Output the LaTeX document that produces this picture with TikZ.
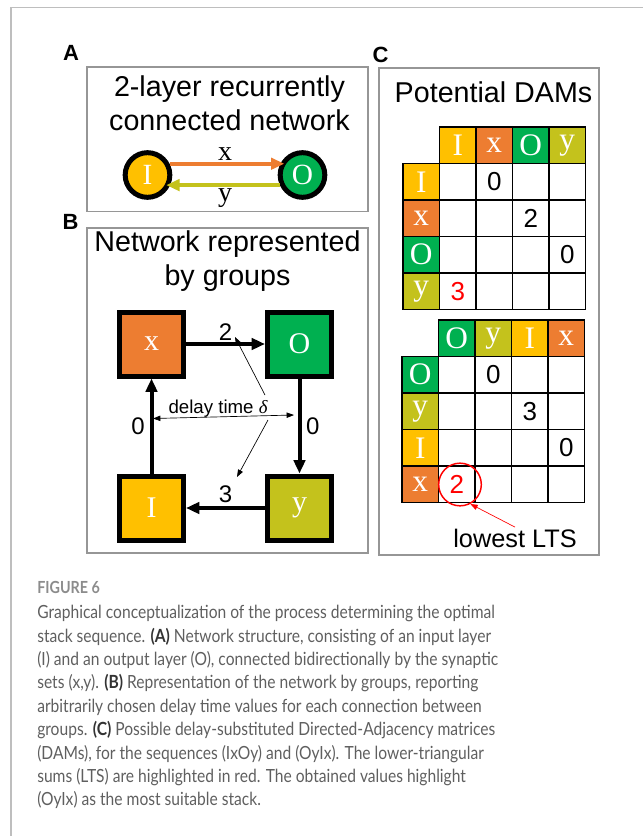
\documentclass[tikz,border=0pt]{standalone}
\usepackage{fontspec}
\setmainfont{Liberation Sans}
\newfontfamily\tms{Liberation Serif}
\newfontfamily\capfam[FakeStretch=0.86]{Lato}
\usetikzlibrary{arrows.meta}

\definecolor{layI}{RGB}{255,192,0}
\definecolor{layX}{RGB}{237,125,49}
\definecolor{layO}{RGB}{0,176,80}
\definecolor{layY}{RGB}{196,194,28}
\definecolor{framegray}{RGB}{150,150,150}
\definecolor{pagegray}{RGB}{190,190,190}
\definecolor{capgray}{RGB}{95,95,95}
\definecolor{figgray}{RGB}{140,140,140}

\newcommand{\capb}[1]{{\bfseries\color{black!80}#1}}

\tikzset{
  panel/.style={draw=framegray, line width=1.1pt},
  plabel/.style={font=\fontsize{16.5}{18}\selectfont\bfseries},
  title/.style={align=center, font=\fontsize{21.5}{25.5}\selectfont},
  lay/.style={circle, draw, line width=3.75pt, minimum size=33.5pt, inner sep=0pt,
    fill=#1, text=white, font=\tms\fontsize{22}{22}\selectfont},
  grp/.style={draw, line width=3.75pt, minimum size=48pt, inner sep=0pt,
    fill=#1, text=white, font=\tms\fontsize{22.5}{24}\selectfont},
  fat/.style={line width=3pt, -{Triangle[length=10pt,width=8.5pt]}},
  thinarr/.style={line width=0.5pt, -{Triangle[length=5.5pt,width=4pt]}},
  dblarr/.style={line width=0.5pt, {Triangle[length=5.5pt,width=4pt]}-{Triangle[length=5.5pt,width=4pt]}},
  xlet/.style={text=black, font=\tms\fontsize{21}{22}\selectfont, inner sep=1pt},
  lbl/.style={font=\fontsize{18}{20}\selectfont, inner sep=1.5pt},
  cell/.style={draw, line width=1.1pt, minimum size=27.4pt, inner sep=0pt},
  hdr/.style={cell, fill=#1, text=white, font=\tms\fontsize{23.5}{24}\selectfont},
  num/.style={font=\fontsize{19.5}{20}\selectfont, inner sep=0pt},
}

\begin{document}
\begin{tikzpicture}[x=0.75pt,y=-0.75pt]
    \useasboundingbox (0,0) rectangle (643,836);
    \draw[pagegray, line width=0.8pt] (11,836) -- (11,7.5) -- (643,7.5);

    % Panel A
    \node[plabel] (labA) at (71,52.5) {A};
    \draw[panel] (87,67) rectangle (368,211.5);
    \node[title] (ttlA) at (229.5,103.5) {2-layer recurrently\\connected network};
    \node[lay=layI] (nI) at (147.5,175) {I};
    \node[lay=layO] (nO) at (302.5,175) {O};
    \draw[fat, layX, shorten >=-3pt] (nI.27) -- node[above, xlet] (ex) {x} (nO.153);
    \draw[fat, layY, shorten >=-3pt] (nO.204) -- node[below=0.5pt, xlet] (ey) {y} (nI.-24);

    % Panel B
    \node[plabel] (labB) at (70.5,222) {B};
    \draw[panel] (87,228) rectangle (368,553);
    \node[title] (ttlB) at (227.5,261.5) {Network represented\\by groups};
    \node[grp=layX] (gx) at (151.5,344) {x};
    \node[grp=layO] (gO) at (299.5,344) {O};
    \node[grp=layI] (gI) at (151.5,508) {I};
    \node[grp=layY] (gy) at (299.5,508) {y};
    \draw[fat] (gx) -- node[lbl, above] (e2) {2} (gO);
    \draw[fat] (gO) -- node[lbl, right=2pt] (e0a) {0} (gy);
    \draw[fat] (gy) -- node[lbl, above=1pt] (e3) {3} (gI);
    \draw[fat] (gI) -- node[lbl, left=2pt] (e0b) {0} (gx);

    % delay time pointers
    \node[font=\fontsize{14}{16}\selectfont, inner sep=0pt, anchor=base] (dlt) at (218,413) {delay time {\tms\itshape δ}};
    \coordinate (fu) at (265,395);
    \coordinate (fd) at (268,420);
    \coordinate (t2) at (235,337);
    \coordinate (tl) at (153,418.5);
    \coordinate (tr) at (294,415);
    \coordinate (t3) at (237,477);
    \draw[thinarr] (fu) -- (t2);
    \draw[dblarr] (tl) -- (tr);
    \draw[thinarr] (fd) -- (t3);

    % Panel C
    \node[plabel] (labC) at (380.5,54.5) {C};
    \draw[panel] (379,68) rectangle (599,555);
    \node[title, anchor=base] (ttlC) at (493.5,102) {Potential DAMs};

    % DAM for (IxOy)
    \foreach \lab/\fc [count=\k] in {I/layI,x/layX,O/layO,y/layY}{
        \node[hdr=\fc] (pc\k) at ({403+36.5*(\k+0.5)},145.25) {\lab};
        \node[hdr=\fc] (pr\k) at (421.25,{127+36.5*(\k+0.5)}) {\lab};
        \foreach \c in {1,...,4}
            \node[cell] (p\k\c) at ({403+36.5*(\c+0.5)},{127+36.5*(\k+0.5)}) {};
    }
    \node[num] (v12) at (p12) {0};
    \node[num] (v23) at (p23) {2};
    \node[num] (v34) at (p34) {0};
    \node[num, red] (v41) at (p41) {3};

    % DAM for (OyIx)
    \foreach \lab/\fc [count=\k] in {O/layO,y/layY,I/layI,x/layX}{
        \node[hdr=\fc] (qc\k) at ({402+36.5*(\k+0.5)},338.25) {\lab};
        \node[hdr=\fc] (qr\k) at (420.25,{320+36.5*(\k+0.5)}) {\lab};
        \foreach \c in {1,...,4}
            \node[cell] (q\k\c) at ({402+36.5*(\c+0.5)},{320+36.5*(\k+0.5)}) {};
    }
    \node[num] (w12) at (q12) {0};
    \node[num] (w23) at (q23) {3};
    \node[num] (w34) at (q34) {0};
    \node[num, red] (w41) at (q41) {2};

    % lowest lower-triangular sum
    \node[circle, draw=red, line width=1.1pt, minimum size=32pt, inner sep=0pt] (lowc) at (460,484.5) {};
    \node[font=\fontsize{19}{20}\selectfont, inner sep=1pt] (lts) at (515,538) {lowest LTS};
    \draw[thinarr, red] (lts.north) -- (lowc.-62);

    % Caption
    \node[anchor=base west, inner sep=0pt, text=figgray, font=\capfam\bfseries\fontsize{12.5}{13}\selectfont] (fig) at (37,593) {FIGURE 6};
    \node[anchor=north west, align=left, inner sep=0pt, text=capgray, font=\capfam\fontsize{13.6}{17.55}\selectfont] (cap) at (37,605) {Graphical conceptualization of the process determining the optimal\\
stack sequence. \capb{(A)} Network structure, consisting of an input layer\\
(I) and an output layer (O), connected bidirectionally by the synaptic\\
sets (x,y). \capb{(B)} Representation of the network by groups, reporting\\
arbitrarily chosen delay time values for each connection between\\
groups. \capb{(C)} Possible delay-substituted Directed-Adjacency matrices\\
(DAMs), for the sequences (IxOy) and (OyIx). The lower-triangular\\
sums (LTS) are highlighted in red. The obtained values highlight\\
(OyIx) as the most suitable stack.};
\end{tikzpicture}
\end{document}
